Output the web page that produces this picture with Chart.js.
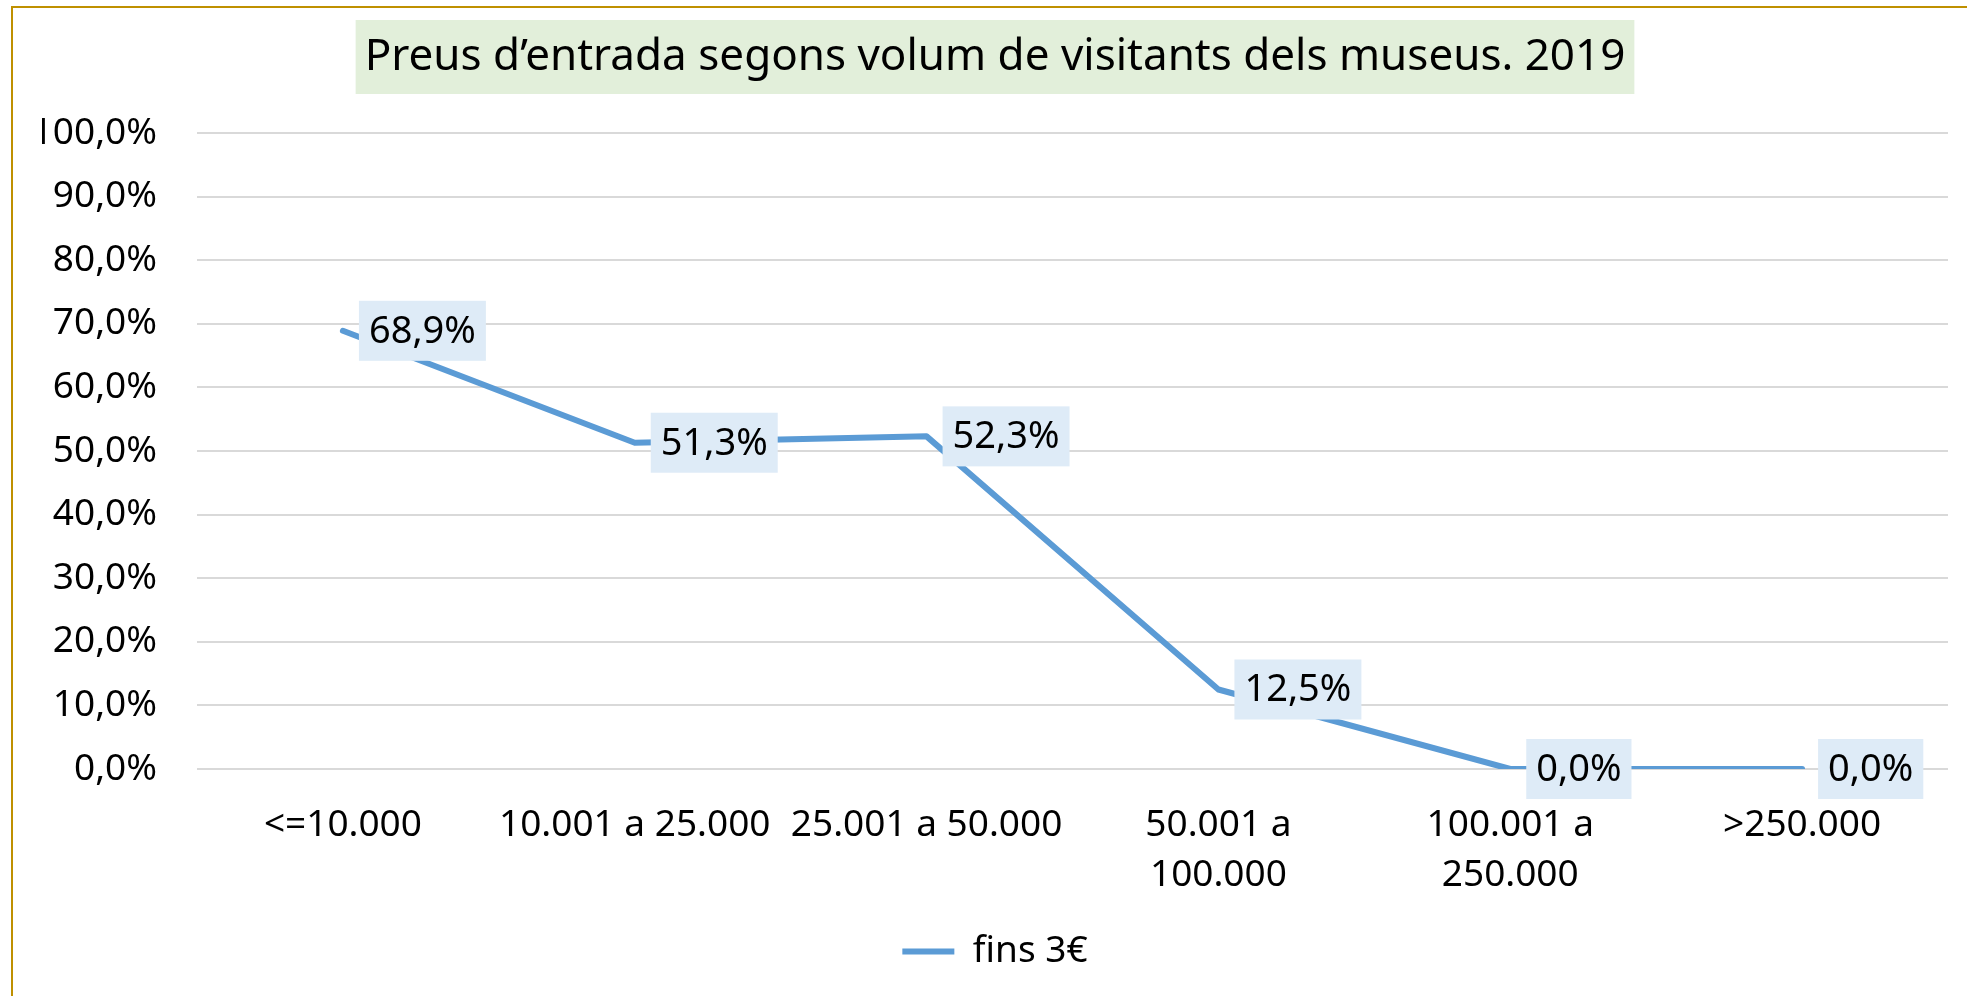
<!DOCTYPE html>
<html>
<head>
<meta charset="utf-8">
<title>Preus d'entrada segons volum de visitants dels museus. 2019</title>
<script src="https://cdn.jsdelivr.net/npm/chart.js@4/dist/chart.umd.min.js"></script>
<style>
    html, body { margin: 0; padding: 0; background: #fff; overflow: hidden; }
    .chart-frame {
        position: absolute; left: 11px; top: 6px; right: -10px; bottom: -10px;
        border-left: 2px solid #BF9000; border-top: 2px solid #BF9000;
        pointer-events: none;
    }
    #museums-graph { position: absolute; left: 0; top: 0; }
</style>
</head>
<body>
<canvas id="museums-graph" width="1967" height="996"></canvas>
<div class="chart-frame"></div>
<script>
// data
let categories = ['<=10.000', '10.001 a 25.000', '25.001 a 50.000', ['50.001 a', '100.000'], ['100.001 a', '250.000'], '>250.000'];
let fins_3_euros = [68.9, 51.3, 52.3, 12.5, 0.0, 0.0];
let y_ticks = [0, 10, 20, 30, 40, 50, 60, 70, 80, 90, 100];
let series_name = 'fins 3€';
let chart_title = 'Preus d’entrada segons volum de visitants dels museus. 2019';

const font_family = "'Noto Sans', 'Open Sans', sans-serif";
const title_size = 44;
Chart.defaults.font.family = font_family;
Chart.defaults.color = '#000';

function pct(v) {
    return v.toFixed(1).replace('.', ',') + '%';
}

// green box behind the title
const title_background = {
    id: 'title_background',
    beforeDraw(chart) {
        let block = chart.titleBlock;
        if (!block) return;
        let ctx = chart.ctx;
        ctx.save();
        ctx.font = title_size + 'px ' + font_family;
        let w = ctx.measureText(chart_title).width + 18;
        let cx = (block.left + block.right) / 2;
        ctx.fillStyle = '#E2EFDA';
        ctx.fillRect(cx - w / 2, block.top, w, 74);
        ctx.restore();
    }
};

// excel style labels on the right of each point
const value_labels = {
    id: 'value_labels',
    afterDatasetsDraw(chart) {
        let ctx = chart.ctx;
        let meta = chart.getDatasetMeta(0);
        ctx.save();
        ctx.font = '38px ' + font_family;
        ctx.textBaseline = 'middle';
        ctx.textAlign = 'left';
        meta.data.forEach((pt, i) => {
            let text = pct(chart.data.datasets[0].data[i]);
            let w = ctx.measureText(text).width + 20;
            let left = pt.x + 16;
            ctx.fillStyle = '#DEEBF7';
            ctx.fillRect(left, pt.y - 30, w, 60);
            ctx.fillStyle = '#000';
            ctx.fillText(text, left + 10, pt.y + 1);
        });
        ctx.restore();
    }
};

let museums_graph_element = document.getElementById('museums-graph').getContext('2d');

let museums_graph = new Chart(museums_graph_element, {
    type: 'line',
    data: {
        labels: categories,
        datasets: [{
            label: series_name,
            data: fins_3_euros,
            borderColor: '#5B9BD5',
            backgroundColor: '#5B9BD5',
            borderWidth: 6,
            borderCapStyle: 'round',
            borderJoinStyle: 'round',
            pointRadius: 0,
            pointHoverRadius: 0,
            tension: 0,
            fill: false
        }]
    },
    options: {
        responsive: false,
        devicePixelRatio: 1,
        animation: false,
        layout: {
            padding: { top: 20, left: 42, right: 19, bottom: 16 }
        },
        plugins: {
            title: {
                display: true,
                text: chart_title,
                align: 'center',
                color: '#000',
                font: { size: title_size, weight: 'normal', lineHeight: 74 / title_size },
                padding: { top: 0, bottom: 39 }
            },
            legend: {
                position: 'bottom',
                labels: {
                    usePointStyle: true,
                    pointStyle: 'line',
                    pointStyleWidth: 52,
                    color: '#000',
                    font: { size: 37 },
                    padding: 10
                }
            },
            tooltip: { enabled: false }
        },
        scales: {
            x: {
                offset: true,
                grid: { display: false, drawTicks: false, offset: true },
                border: { display: false },
                ticks: {
                    maxRotation: 0,
                    autoSkip: false,
                    padding: 31,
                    font: { size: 37, lineHeight: 50 / 37 }
                },
                afterFit: (scale) => { scale.height = 154; }
            },
            y: {
                min: 0,
                max: 100,
                afterBuildTicks: (scale) => { scale.ticks = y_ticks.map(v => ({ value: v })); },
                grid: { color: '#D9D9D9', lineWidth: 2, drawTicks: false },
                border: { display: false },
                ticks: {
                    padding: 40,
                    font: { size: 37 },
                    callback: (v) => pct(v)
                },
                afterFit: (scale) => { scale.width = 155; }
            }
        }
    },
    plugins: [title_background, value_labels]
});
</script>
</body>
</html>
